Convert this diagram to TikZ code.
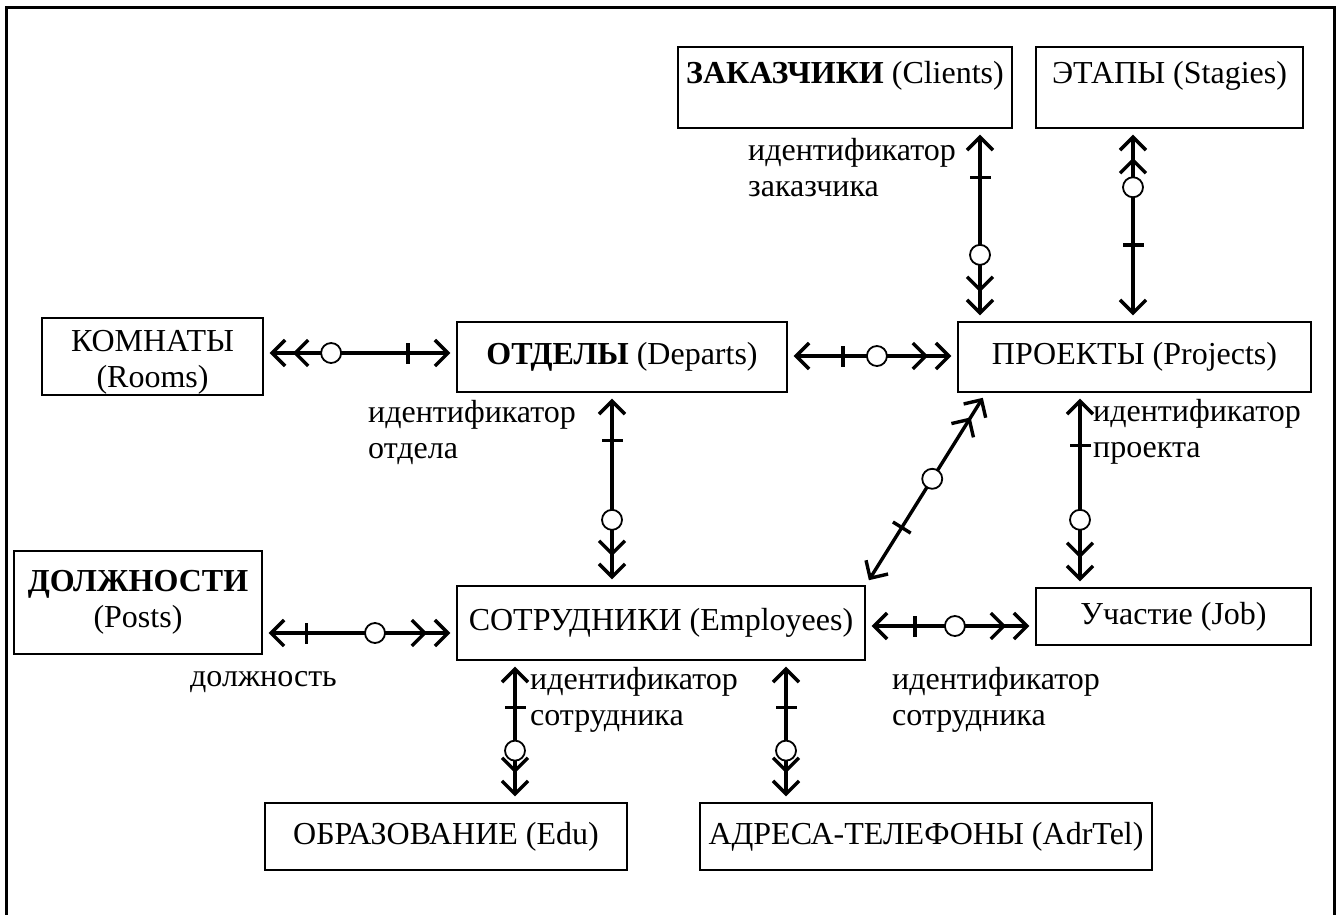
\documentclass[tikz,border=0pt]{standalone}
\usepackage{fontspec}
\setmainfont{Liberation Serif}
\usetikzlibrary{arrows.meta}
\tikzset{
  sb/.tip={Straight Barb[length=13pt,width=26pt,sep=6pt]},
  sbb/.tip={Straight Barb[length=13pt,width=26pt,sep=6pt] Straight Barb[length=13pt,width=26pt,sep=6pt]},
  box/.style={draw, line width=1.4pt, inner sep=0pt, align=center},
  conn/.style={line width=3.4pt},
  tick/.style={fill, draw=none, inner sep=0pt, minimum width=3.4pt, minimum height=21pt, sloped, allow upside down},
  circ/.style={circle, draw, fill=white, line width=1.8pt, inner sep=0pt, minimum size=20pt},
  lbl/.style={anchor=west, align=left, inner sep=0pt},
  txt/.style={inner sep=0pt, align=center}
}
\begin{document}
\begin{tikzpicture}[x=1pt,y=-1pt,font=\fontsize{32}{36}\selectfont]
\useasboundingbox (0,0) rectangle (1341,914);
\clip (0,0) rectangle (1341,914);
\draw[line width=3pt] (6,930) -- (6,7) -- (1334,7) -- (1334,930);

% boxes
\node[box, minimum width=334pt, minimum height=81pt] (clients) at (845,87.5) {};
\node[txt] (clientsT) at (845,76) {\textbf{ЗАКАЗЧИКИ} (Clients)};
\node[box, minimum width=267pt, minimum height=81pt] (stages) at (1169.5,87.5) {};
\node[txt] (stagesT) at (1169.5,76) {ЭТАПЫ (Stagies)};
\node[box, minimum width=221pt, minimum height=77pt] (rooms) at (152.5,356.5) {};
\node[txt] (roomsT) at (152.5,362) {КОМНАТЫ\\(Rooms)};
\node[box, minimum width=330pt, minimum height=70pt] (departs) at (622,357) {\textbf{ОТДЕЛЫ} (Departs)};
\node[box, minimum width=353pt, minimum height=70pt] (projects) at (1134.5,357) {ПРОЕКТЫ (Projects)};
\node[box, minimum width=248pt, minimum height=103pt] (posts) at (138,602.5) {\textbf{ДОЛЖНОСТИ}\\(Posts)};
\node[box, minimum width=408pt, minimum height=74pt] (employees) at (661,623) {СОТРУДНИКИ (Employees)};
\node[box, minimum width=275pt, minimum height=57pt] (job) at (1173.5,616.5) {Участие (Job)};
\node[box, minimum width=362pt, minimum height=67pt] (edu) at (446,836.5) {ОБРАЗОВАНИЕ (Edu)};
\node[box, minimum width=452pt, minimum height=67pt] (adrtel) at (926,836.5) {АДРЕСА-ТЕЛЕФОНЫ (AdrTel)};

% connectors
\draw[conn, sbb-sb] (rooms.east |- 0,353) -- (departs.west |- 0,353)
  node[pos=0.35, circ] {} node[pos=0.75, tick] {};
\draw[conn, sb-sbb] (departs.east |- 0,356) -- (projects.west |- 0,356)
  node[pos=0.327, tick] {} node[pos=0.526, circ] {};
\draw[conn, sb-sbb] (clients.south -| 980,0) -- (projects.north -| 980,0)
  node[pos=0.253, tick] {} node[pos=0.655, circ] {};
\draw[conn, sbb-sb] (stages.south -| 1133,0) -- (projects.north -| 1133,0)
  node[pos=0.304, circ] {} node[pos=0.603, tick] {};
\draw[conn, sb-sbb] (departs.south -| 612,0) -- (employees.north -| 612,0)
  node[pos=0.247, tick] {} node[pos=0.66, circ] {};
\draw[conn, sb-sbb] (projects.south -| 1080,0) -- (job.north -| 1080,0)
  node[pos=0.27, tick] {} node[pos=0.653, circ] {};
\draw[conn, sb-sbb] (employees.north east) -- (projects.south west -| 986,0)
  node[pos=0.3, tick] {} node[pos=0.553, circ] {};
\draw[conn, sb-sbb] (posts.east |- 0,633) -- (employees.west |- 0,633)
  node[pos=0.226, tick] {} node[pos=0.58, circ] {};
\draw[conn, sb-sbb] (employees.east |- 0,626) -- (job.west |- 0,626)
  node[pos=0.29, tick] {} node[pos=0.526, circ] {};
\draw[conn, sb-sbb] (employees.south -| 515,0) -- (edu.north -| 515,0)
  node[pos=0.33, tick] {} node[pos=0.635, circ] {};
\draw[conn, sb-sbb] (employees.south -| 786,0) -- (adrtel.north -| 786,0)
  node[pos=0.33, tick] {} node[pos=0.635, circ] {};

% labels
\node[lbl] (lclient) at (748,168) {идентификатор\\заказчика};
\node[lbl] (ldep) at (368,432) {идентификатор\\отдела};
\node[lbl] (lproj) at (1093,432) {идентификатор\\проекта};
\node[lbl] (lpost) at (190,682) {должность};
\node[lbl] (lemp1) at (530,700) {идентификатор\\сотрудника};
\node[lbl] (lemp2) at (892,700) {идентификатор\\сотрудника};
\end{tikzpicture}
\end{document}
